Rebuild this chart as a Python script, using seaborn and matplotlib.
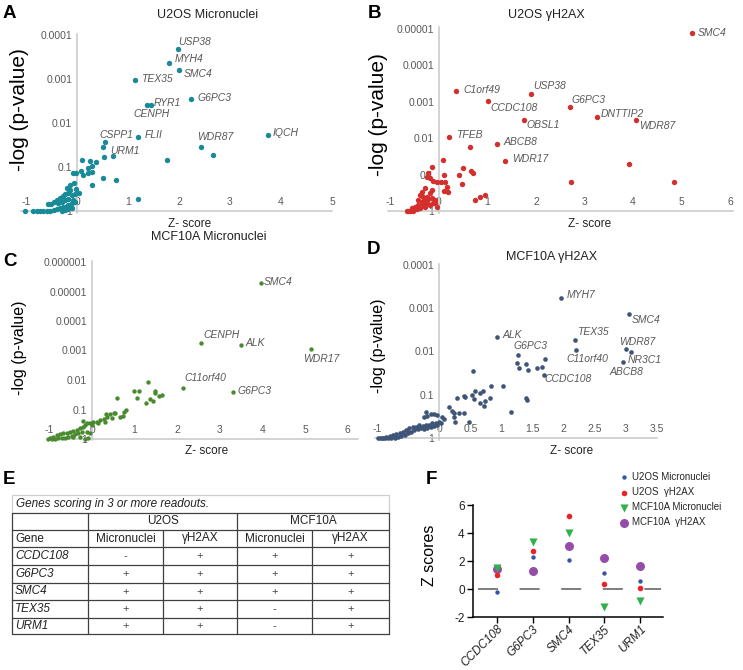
import numpy as np
import pandas as pd
import matplotlib
matplotlib.use("Agg")
import matplotlib.pyplot as plt
import seaborn as sns

# ---------------- data ----------------
# Panel A: U2OS Micronuclei  (z-score, -log10 p)
a_z = [2.67, 0.51, 0.52, 1.76, 0.76, 0.50, 1.20,
       0.09, 0.25, 0.37, 0.30, 0.22, 0.30, 0.22, 0.07, -0.07, -0.01, 0.12, 0.29, -0.14, -0.05, -0.01, -0.14, -0.20,
       0.03, -0.04, -0.10, -0.17, -0.24, -0.27, -0.33, -0.40, -0.46, -0.51, -0.56, -0.37, -0.30, -0.24, -0.17, -0.07,
       -1.02, -0.86, -0.79, -0.73, -0.66, -0.59, -0.53, -0.46, -0.40, -0.33, -0.27, -0.20, -0.14, -0.10, -0.17,
       -0.24, -0.30, -0.17, -0.10, -0.04]
a_nlp = [1.28, 1.46, 1.23, 1.17, 0.70, 0.76, 0.27,
         1.16, 1.14, 1.12, 1.03, 0.97, 0.89, 0.87, 0.92, 0.87, 0.86, 0.82, 0.59, 0.59, 0.63, 0.49, 0.48, 0.52,
         0.40, 0.39, 0.36, 0.40, 0.38, 0.33, 0.29, 0.25, 0.21, 0.17, 0.16, 0.19, 0.21, 0.25, 0.27, 0.25,
         0.0, 0.0, 0.0, 0.0, 0.0, 0.0, 0.01, 0.02, 0.04, 0.06, 0.08, 0.11, 0.14, 0.06, 0.04,
         0.02, 0.01, 0.14, 0.18, 0.21]
a_genes = ["USP38", "MYH4", "SMC4", "TEX35", "G6PC3", "CENPH", "RYR1", "FLII", "IQCH", "CSPP1", "WDR87", "URM1"]
a_gene_z = [1.98, 1.80, 2.00, 1.13, 2.24, 1.37, 1.45, 1.20, 3.74, 0.55, 2.43, 0.70]
a_gene_nlp = [3.68, 3.36, 3.20, 2.97, 2.54, 2.41, 2.41, 1.68, 1.73, 1.57, 1.45, 1.24]

# Panel B: U2OS gH2AX
b_z = [0.63, 3.92, 2.72, 4.85, 0.08,
       -0.15, 0.11, 0.50, 0.41, 0.66, 0.71, 0.48, -0.22, -0.25, -0.19, -0.12, -0.05, 0.05, 0.12, 0.16, 0.11, 0.18,
       0.74, 0.85, 0.95,
       -0.29, -0.36, -0.39, -0.32, -0.25, -0.19, -0.15,
       -0.43, -0.36, -0.29, -0.22, -0.15, -0.08, -0.12, -0.25, -0.32, -0.43, -0.49, -0.56, -0.63, -0.67, -0.60,
       -0.53, -0.46, -0.39, -0.29, -0.19, -0.08, -0.05]
b_nlp = [1.77, 1.29, 0.80, 0.79, 1.39,
         1.20, 0.99, 1.17, 0.99, 1.11, 1.05, 0.74, 1.04, 0.94, 0.90, 0.83, 0.80, 0.80, 0.80, 0.67, 0.56, 0.53,
         0.30, 0.38, 0.44,
         0.62, 0.53, 0.44, 0.39, 0.39, 0.49, 0.58,
         0.30, 0.26, 0.30, 0.32, 0.35, 0.30, 0.21, 0.21, 0.16, 0.16, 0.12, 0.07, 0.01, 0.0, 0.0,
         0.0, 0.05, 0.07, 0.12, 0.16, 0.21, 0.12]
b_genes = ["SMC4", "C1orf49", "USP38", "CCDC108", "G6PC3", "DNTTIP2", "WDR87", "OBSL1", "TFEB", "ABCB8", "WDR17"]
b_gene_z = [5.21, 0.35, 1.90, 1.01, 2.70, 3.25, 4.06, 1.75, 0.21, 1.20, 1.36]
b_gene_nlp = [4.88, 3.30, 3.22, 3.03, 2.85, 2.59, 2.50, 2.51, 2.04, 1.83, 1.37]

# Panel C: MCF10A Micronuclei
c_z = [1.31, 0.99, 1.10, 0.58, 1.06, 1.47, 1.49, 1.58, 1.64, 1.37, 1.44, 1.26, 0.79, 0.76, 0.34, 0.52, 0.73,
       0.54, 0.42, 0.35, 0.27, 0.19, 0.11, 0.03, -0.05, -0.12, -0.20, -0.16, -0.01, 0.15, 0.31, 0.46, 0.66,
       -0.20, -0.28, -0.36, -0.44, -0.52, -0.59, -0.67, -0.75, -0.83, -0.91, -0.99, -1.03, -0.95, -0.87, -0.79,
       -0.71, -0.63, -0.56, -0.48, -0.40, -0.32, -0.24, -0.12, -0.05, -0.09, -0.16, -0.28, -0.44]
c_nlp = [1.94, 1.64, 1.64, 1.40, 1.40, 1.62, 1.55, 1.47, 1.49, 1.37, 1.30, 1.22, 0.98, 0.90, 0.85, 0.88, 0.78,
         0.87, 0.85, 0.76, 0.67, 0.64, 0.59, 0.59, 0.55, 0.53, 0.62, 0.47, 0.47, 0.53, 0.59, 0.70, 0.76,
         0.42, 0.36, 0.31, 0.28, 0.25, 0.21, 0.19, 0.17, 0.14, 0.08, 0.02, 0.0, 0.0, 0.0, 0.02,
         0.02, 0.04, 0.08, 0.11, 0.16, 0.19, 0.25, 0.25, 0.19, 0.02, 0.0, 0.08, 0.08]
c_genes = ["SMC4", "CENPH", "ALK", "WDR17", "C11orf40", "G6PC3"]
c_gene_z = [3.97, 2.56, 3.49, 5.13, 2.14, 3.30]
c_gene_nlp = [5.30, 3.26, 3.18, 3.05, 1.72, 1.60]

# Panel D: MCF10A gH2AX
d_z = [1.25, 1.39, 1.29, 1.43, 1.58, 1.66, 1.70, 0.54, 1.03, 0.84, 0.71, 0.65, 0.57, 0.52, 0.42, 0.28, 0.81, 0.72,
       1.39, 1.41, 1.16,
       0.40, 0.56, 0.66, 0.73, 0.48, 0.16, 0.20, 0.24, 0.32, 0.40, 0.24, 0.25,
       -0.21, -0.13, -0.08, -0.19, -0.24, -0.03, 0.05, 0.08,
       0.00, -0.05, -0.11, -0.16, -0.21, -0.27, -0.32, -0.37, -0.42, -0.48, -0.53, -0.58, -0.64, -0.69, -0.74,
       -0.80, -0.85, -0.90, -0.96, -0.98, -0.93, -0.88, -0.82, -0.77, -0.72, -0.66, -0.61, -0.56, -0.50, -0.45,
       -0.40, -0.35, -0.29, -0.24, -0.19, -0.13, -0.08, -0.03, 0.03, -0.32, -0.40, -0.50, -0.61, -0.72]
d_nlp = [1.73, 1.71, 1.62, 1.56, 1.62, 1.64, 1.82, 1.55, 1.20, 1.20, 1.09, 1.05, 1.09, 0.99, 0.95, 0.92, 0.93, 0.74,
         0.93, 0.88, 0.61,
         0.97, 0.89, 0.80, 0.86, 0.38, 0.71, 0.63, 0.57, 0.57, 0.57, 0.49, 0.38,
         0.61, 0.55, 0.55, 0.51, 0.49, 0.53, 0.48, 0.43,
         0.38, 0.34, 0.35, 0.30, 0.30, 0.28, 0.26, 0.26, 0.25, 0.22, 0.18, 0.15, 0.11, 0.09, 0.07,
         0.05, 0.02, 0.0, 0.0, 0.0, 0.0, 0.0, 0.0, 0.0, 0.0, 0.02, 0.05, 0.07, 0.11, 0.15,
         0.18, 0.20, 0.22, 0.20, 0.22, 0.26, 0.28, 0.30, 0.34, 0.30, 0.22, 0.15, 0.09, 0.03]
d_genes = ["MYH7", "SMC4", "ALK", "TEX35", "G6PC3", "WDR87", "NR3C1", "C11orf40", "ABCB8", "CCDC108"]
d_gene_z = [1.96, 3.06, 0.93, 2.19, 1.27, 3.00, 3.09, 2.20, 2.95, 1.68]
d_gene_nlp = [3.23, 2.86, 2.34, 2.26, 1.91, 2.06, 1.98, 2.03, 1.76, 1.45]

p_labels = ["1", "0.1", "0.01", "0.001", "0.0001", "0.00001", "0.000001"]

# Panel E: table
table_title = "Genes scoring in 3 or more readouts."
cell_lines = ["U2OS", "MCF10A"]
readouts = ["Micronuclei", "\u03b3H2AX", "Micronuclei", "\u03b3H2AX"]
table_genes = ["CCDC108", "G6PC3", "SMC4", "TEX35", "URM1"]
u2os_mn_mark = ["-", "+", "+", "+", "+"]
u2os_h2ax_mark = ["+", "+", "+", "+", "+"]
mcf_mn_mark = ["+", "+", "+", "-", "-"]
mcf_h2ax_mark = ["+", "+", "+", "+", "+"]

# Panel F: Z scores
f_genes = ["CCDC108", "G6PC3", "SMC4", "TEX35", "URM1"]
f_u2os_mn = [-0.19, 2.29, 2.07, 1.17, 0.57]
f_u2os_h2ax = [1.02, 2.71, 5.24, 0.36, 0.10]
f_mcf_mn = [1.50, 3.38, 4.02, -1.26, -0.86]
f_mcf_h2ax = [1.43, 1.29, 3.10, 2.21, 1.62]
f_series = ["U2OS Micronuclei", "U2OS  \u03b3H2AX", "MCF10A Micronuclei", "MCF10A  \u03b3H2AX"]

# ---------------- label offsets (px) ----------------
a_off = {"USP38": (0, 7), "MYH4": (6, 4), "SMC4": (5, -4), "TEX35": (6, 1), "G6PC3": (6, 1),
         "CENPH": (-13, -9), "RYR1": (3, 2), "FLII": (6, 2), "IQCH": (5, 2), "CSPP1": (-6, 7),
         "WDR87": (-4, 10), "URM1": (-2, 5)}
b_off = {"SMC4": (6, 0), "C1orf49": (7, 1), "USP38": (2, 8), "CCDC108": (2, -7), "G6PC3": (2, 7),
         "DNTTIP2": (4, 3), "WDR87": (3, -6), "OBSL1": (3, -5), "TFEB": (7, 2), "ABCB8": (6, 2), "WDR17": (7, 2)}
c_off = {"SMC4": (3, 1), "CENPH": (2, 8), "ALK": (5, 2), "WDR17": (-7, -10), "C11orf40": (1, 10), "G6PC3": (5, 1)}
d_off = {"MYH7": (6, 3), "SMC4": (2, -6), "ALK": (5, 2), "TEX35": (2, 8), "G6PC3": (-5, 9), "WDR87": (-6, 7),
         "NR3C1": (-4, -8), "C11orf40": (-9, -9), "ABCB8": (-13, -10), "CCDC108": (1, -4)}

# ---------------- figure ----------------
sns.set_theme(style="white")
plt.rcParams['font.family'] = ['Liberation Sans', 'DejaVu Sans']

W, H = 743, 670
fig = plt.figure(figsize=(W / 100, H / 100), dpi=100)


def add_px_axes(x0, y0, x1, y1):
    return fig.add_axes([x0 / W, 1 - y1 / H, (x1 - x0) / W, (y1 - y0) / H])


GRAY = "#595959"


def scatter_panel(zero_x, ppu, xlim, zero_y, ppd, ylim, z, nlp, gz, gnlp, gnames, offsets,
                  color, s, xticks, xticklabels, ny):
    x0 = zero_x + xlim[0] * ppu
    x1 = zero_x + xlim[1] * ppu
    yt = zero_y - ylim[1] * ppd
    yb = zero_y - ylim[0] * ppd
    ax = add_px_axes(x0, yt, x1, yb)
    df = pd.DataFrame({"z": list(z) + list(gz), "nlp": list(nlp) + list(gnlp)})
    sns.scatterplot(data=df, x="z", y="nlp", color=color, s=s, linewidth=0, ax=ax,
                    zorder=3, clip_on=False, legend=False)
    ax.set_xlim(xlim)
    ax.set_ylim(ylim)
    ax.patch.set_alpha(0)
    for sp in ["top", "right"]:
        ax.spines[sp].set_visible(False)
    ax.spines["left"].set_position(("data", 0))
    ax.spines["bottom"].set_position(("data", 0))
    for sp in ["left", "bottom"]:
        ax.spines[sp].set_color("#c8c8c8")
        ax.spines[sp].set_linewidth(1.1)
    ax.set_xticks(xticks)
    ax.set_xticklabels(xticklabels)
    ax.set_yticks(list(range(ny + 1)))
    ax.set_yticklabels(p_labels[:ny + 1])
    ax.tick_params(axis="x", length=0, pad=-10, labelsize=7.5, labelcolor=GRAY)
    ax.tick_params(axis="y", length=0, pad=3.5, labelsize=7.5, labelcolor=GRAY)
    ax.set_xlabel("")
    ax.set_ylabel("")
    for name, gx, gy in zip(gnames, gz, gnlp):
        dx, dy = offsets[name]
        ax.annotate(name, (gx, gy), xytext=(dx * 0.72, dy * 0.72), textcoords="offset points",
                    ha="left", va="center", fontsize=7.5, fontstyle="italic", color=GRAY, zorder=4)
    return ax


scatter_panel(77, 51, (-1.1, 5.0), 211, 44, (-0.05, 4.02), a_z, a_nlp, a_gene_z, a_gene_nlp, a_genes, a_off,
              "#188a98", 15, list(range(-1, 6)), [str(v) for v in range(-1, 6)], 4)
scatter_panel(439, 48.5, (-1.05, 6.06), 211, 36.4, (-0.05, 5.05), b_z, b_nlp, b_gene_z, b_gene_nlp, b_genes, b_off,
              "#d42f2c", 15, list(range(-1, 7)), [str(v) for v in range(-1, 7)], 5)
scatter_panel(92, 42.6, (-1.06, 6.24), 439, 29.5, (-0.05, 6.03), c_z, c_nlp, c_gene_z, c_gene_nlp, c_genes, c_off,
              "#4a8a2e", 10, list(range(-1, 7)), [str(v) for v in range(-1, 7)], 6)
d_ticks = [-1, 0, 0.5, 1, 1.5, 2, 2.5, 3, 3.5]
scatter_panel(440, 62.8, (-1.03, 3.45), 438, 43.3, (-0.05, 4.03), d_z, d_nlp, d_gene_z, d_gene_nlp, d_genes, d_off,
              "#3e5578", 11, d_ticks, ["-1", "0", "0.5", "1", "1.5", "2", "2.5", "3", "3.5"], 4)

# ---------------- panel F ----------------
axF = add_px_axes(473, 505, 663, 617)
f_vals = {f_series[0]: f_u2os_mn, f_series[1]: f_u2os_h2ax, f_series[2]: f_mcf_mn, f_series[3]: f_mcf_h2ax}
f_colors = {f_series[0]: "#3953a4", f_series[1]: "#ec2227", f_series[2]: "#2fb24a", f_series[3]: "#944da8"}
f_markers = {f_series[0]: "o", f_series[1]: "o", f_series[2]: "v", f_series[3]: "o"}
f_sizes = {f_series[0]: 10, f_series[1]: 16, f_series[2]: 34, f_series[3]: 42}
draw_order = [f_series[3], f_series[2], f_series[1], f_series[0]]
for name in draw_order:
    sns.scatterplot(x=f_genes, y=f_vals[name], color=f_colors[name], marker=f_markers[name],
                    s=f_sizes[name], linewidth=0, ax=axF, label=name, zorder=3, clip_on=False)
axF.axhline(0, xmin=(478 - 473) / 190, xmax=(661 - 473) / 190, color="#808080", lw=1.44,
            linestyle=(0, (10, 10.8)), zorder=1)
axF.set_xlim(-0.67, 4.64)
axF.set_ylim(-2, 6)
axF.set_yticks([-2, 0, 2, 4, 6])
axF.set_yticklabels(["-2", "0", "2", "4", "6"])
for sp in ["top", "right"]:
    axF.spines[sp].set_visible(False)
for sp in ["left", "bottom"]:
    axF.spines[sp].set_color("black")
    axF.spines[sp].set_linewidth(1.1)
axF.tick_params(axis="both", length=4, width=1, color="black", direction="out", labelsize=8.5,
                labelcolor="#222222", bottom=True, left=True, pad=2)
axF.tick_params(axis="x", pad=0.5)
for lab in axF.get_xticklabels():
    lab.set_rotation(45)
    lab.set_ha("right")
    lab.set_va("top")
    lab.set_rotation_mode("anchor")
    lab.set_fontsize(8.5)
    lab.set_fontstyle("italic")
axF.set_xlabel("")
axF.set_ylabel("")
axF.patch.set_alpha(0)
handles, labels = axF.get_legend_handles_labels()
hmap = dict(zip(labels, handles))
if axF.get_legend() is not None:
    axF.get_legend().remove()
fig.legend([hmap[n] for n in f_series], f_series, loc="upper left",
           bbox_to_anchor=(619 / W, 1 - 472 / H), frameon=False, fontsize=7, handlelength=1.0,
           handletextpad=0.35, labelspacing=0.52, borderpad=0, borderaxespad=0, scatterpoints=1)

# ---------------- overlay: titles, labels, table ----------------
ov = fig.add_axes([0, 0, 1, 1])
ov.set_xlim(0, W)
ov.set_ylim(H, 0)
ov.axis("off")

for letter, x, y in [("A", 3, 13), ("B", 368, 13), ("C", 3, 261), ("D", 367, 250), ("E", 3, 480), ("F", 426, 480)]:
    ov.text(x, y, letter, fontsize=13.5, fontweight="bold", ha="left", va="center", color="black")

for t, x, y in [("U2OS Micronuclei", 208, 15), ("U2OS \u03b3H2AX", 546, 15),
                ("MCF10A Micronuclei", 209, 237), ("MCF10A \u03b3H2AX", 552, 257)]:
    ov.text(x, y, t, fontsize=9, ha="center", va="center", color="#222222")

for x, y in [(190, 224), (590, 224), (207, 451), (572, 451)]:
    ov.text(x, y, "Z- score", fontsize=8.5, ha="center", va="center", color="#222222")

for x, y, fs in [(20, 110, 15), (379, 115, 15), (20, 348, 11.5), (379, 346, 11.5)]:
    ov.text(x, y, "-log (p-value)", fontsize=fs, rotation=90, ha="center", va="center", color="black")

ov.text(430, 555, "Z scores", fontsize=11.5, rotation=90, ha="center", va="center", color="black")

# table E
xe = [12, 88, 163, 237, 312, 389]
ye = [495, 513, 530, 547, 565, 583, 600, 618, 634]
light = "#cfcfcf"
dark = "#404040"
ov.plot([xe[0], xe[-1]], [ye[0], ye[0]], color=light, lw=0.9)
ov.plot([xe[0], xe[0]], [ye[0], ye[1]], color=light, lw=0.9)
ov.plot([xe[-1], xe[-1]], [ye[0], ye[1]], color=light, lw=0.9)
for y in ye[1:]:
    ov.plot([xe[0], xe[-1]], [y, y], color=dark, lw=0.9)
for x in [xe[0], xe[1], xe[3], xe[5]]:
    ov.plot([x, x], [ye[1], ye[-1]], color=dark, lw=0.9)
for x in [xe[2], xe[4]]:
    ov.plot([x, x], [ye[2], ye[-1]], color=dark, lw=0.9)

tfs = 8.5
ov.text(xe[0] + 4, (ye[0] + ye[1]) / 2, table_title, fontsize=tfs, fontstyle="italic", ha="left", va="center",
        color="#222222")
ov.text((xe[1] + xe[3]) / 2, (ye[1] + ye[2]) / 2, cell_lines[0], fontsize=tfs, ha="center", va="center",
        color="#222222")
ov.text((xe[3] + xe[5]) / 2, (ye[1] + ye[2]) / 2, cell_lines[1], fontsize=tfs, ha="center", va="center",
        color="#222222")
ov.text(xe[0] + 3, (ye[2] + ye[3]) / 2, "Gene", fontsize=tfs, ha="left", va="center", color="#222222")
for i, r in enumerate(readouts):
    ov.text((xe[i + 1] + xe[i + 2]) / 2, (ye[2] + ye[3]) / 2, r, fontsize=tfs, ha="center", va="center",
            color="#222222")
marks = [u2os_mn_mark, u2os_h2ax_mark, mcf_mn_mark, mcf_h2ax_mark]
for j, g in enumerate(table_genes):
    yc = (ye[3 + j] + ye[4 + j]) / 2
    ov.text(xe[0] + 3, yc, g, fontsize=tfs, fontstyle="italic", ha="left", va="center", color="#222222")
    for i in range(4):
        ov.text((xe[i + 1] + xe[i + 2]) / 2, yc, marks[i][j], fontsize=tfs - 0.5, ha="center", va="center",
                color="#444444")

fig.savefig("out.png", dpi=100)
